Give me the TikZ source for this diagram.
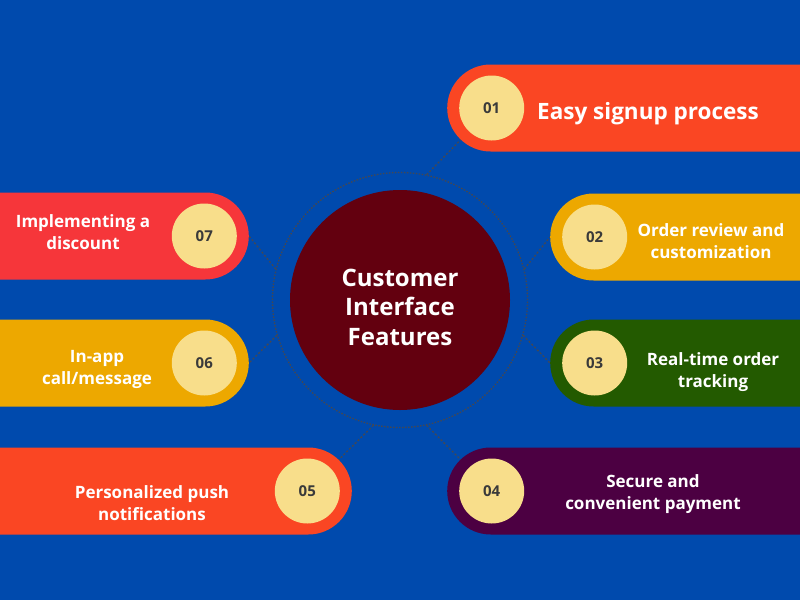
\documentclass[tikz,border=0pt]{standalone}
\usepackage{fontspec}
\setmainfont{Open Sans}
\usepackage{tikz}
\usetikzlibrary{positioning, backgrounds}

\definecolor{bgblue}{HTML}{004AAD}
\definecolor{hubred}{HTML}{63000F}
\definecolor{pillorange}{HTML}{FA4623}
\definecolor{pillamber}{HTML}{EDA800}
\definecolor{pillgreen}{HTML}{235A00}
\definecolor{pillplum}{HTML}{4C0042}
\definecolor{pillred}{HTML}{F6363A}
\definecolor{numyellow}{HTML}{F8DE8B}
\definecolor{numgray}{HTML}{3A3A3A}
\definecolor{linkgray}{HTML}{454852}

\tikzset{
  pill/.style={rectangle, rounded corners=43.5pt, minimum height=87pt, minimum width=420pt, inner sep=0pt},
  num/.style={circle, fill=numyellow, minimum size=65pt, inner sep=0pt, text=numgray, font=\bfseries\fontsize{15}{15}\selectfont},
  feat/.style={text=white, align=center, inner sep=0pt, font=\bfseries\fontsize{17}{22}\selectfont},
  link/.style={draw=linkgray, line width=1.3pt, dash pattern=on 2pt off 2pt},
}

\begin{document}
\begin{tikzpicture}[x=1pt, y=-1pt]
    \useasboundingbox (0,0) rectangle (800,600);
    \clip (0,0) rectangle (800,600);

    % centre
    \node[circle, fill=hubred, minimum size=220pt] (hub) at (400,300) {};
    \node[feat, font=\bfseries\fontsize{24}{29.5}\selectfont] (title) at (400,307) {Customer\\Interface\\Features};
    \node[circle, draw=linkgray, line width=1.3pt, dash pattern=on 1.5pt off 1.5pt, minimum size=255pt] (ring) at (hub) {};

    % right side
    \node[pill, fill=pillorange, anchor=west] (p1) at (447,108) {};
    \node[num, right=12pt of p1.west] (n1) {01};
    \node[feat, anchor=west, font=\bfseries\fontsize{22.5}{27}\selectfont] (t1) at (537,114) {Easy signup process};

    \node[pill, fill=pillamber, anchor=west] (p2) at (550,237) {};
    \node[num, right=12pt of p2.west] (n2) {02};
    \node[feat] (t2) at (711,241) {Order review and\\customization};

    \node[pill, fill=pillgreen, anchor=west] (p3) at (550,363) {};
    \node[num, right=12pt of p3.west] (n3) {03};
    \node[feat] (t3) at (713,372) {Real-time order\\tracking};

    \node[pill, fill=pillplum, anchor=west] (p4) at (447,491) {};
    \node[num, right=12pt of p4.west] (n4) {04};
    \node[feat] (t4) at (653,494) {Secure and\\convenient payment};

    % left side
    \node[pill, fill=pillorange, anchor=east] (p5) at (352,491) {};
    \node[num, left=12pt of p5.east] (n5) {05};
    \node[feat] (t5) at (152,503) {Personalized push\\notifications};

    \node[pill, fill=pillamber, anchor=east] (p6) at (249,363) {};
    \node[num, left=12pt of p6.east] (n6) {06};
    \node[feat] (t6) at (97,369) {In-app\\call/message};

    \node[pill, fill=pillred, anchor=east] (p7) at (249,236) {};
    \node[num, left=12pt of p7.east] (n7) {07};
    \node[feat] (t7) at (83,232) {Implementing a\\discount};

    \begin{scope}[on background layer]
        \fill[bgblue] (0,0) rectangle (800,600);
        \draw[link] (ring.78) -- (n1);
        \draw[link] (ring.14) -- (p2.west);
        \draw[link] (ring.-16) -- (p3.west);
        \draw[link] (ring.-78) -- (n4);
        \draw[link] (ring.258) -- (n5);
        \draw[link] (ring.196) -- (p6.east);
        \draw[link] (ring.166) -- (p7.east);
    \end{scope}
\end{tikzpicture}
\end{document}
